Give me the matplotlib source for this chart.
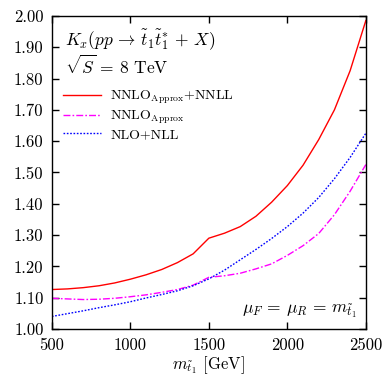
import numpy as np
import matplotlib
matplotlib.use('Agg')
import matplotlib.pyplot as plt

# stop mass [GeV]
mass = [500, 600, 700, 800, 900, 1000, 1100, 1200, 1300, 1400, 1500,
        1600, 1700, 1800, 1900, 2000, 2100, 2200, 2300, 2400, 2500]

# K factors
k_nnll = [1.126, 1.128, 1.132, 1.138, 1.147, 1.159, 1.173, 1.190, 1.212, 1.240, 1.290,
          1.306, 1.327, 1.360, 1.405, 1.458, 1.523, 1.605, 1.700, 1.825, 1.985]
k_nnlo = [1.098, 1.096, 1.094, 1.095, 1.098, 1.103, 1.109, 1.117, 1.126, 1.140, 1.165,
          1.170, 1.178, 1.192, 1.208, 1.235, 1.266, 1.305, 1.365, 1.440, 1.525]
k_nll = [1.040, 1.049, 1.058, 1.068, 1.077, 1.087, 1.099, 1.110, 1.122, 1.138, 1.160,
         1.188, 1.221, 1.254, 1.289, 1.327, 1.370, 1.420, 1.480, 1.548, 1.625]

labels = [r'NNLO$_{\mathrm{Approx}}$+NNLL', r'NNLO$_{\mathrm{Approx}}$', 'NLO+NLL']

xticks = [500, 1000, 1500, 2000, 2500]
yticks = [1.00, 1.10, 1.20, 1.30, 1.40, 1.50, 1.60, 1.70, 1.80, 1.90, 2.00]


def main():
    plt.rcParams['font.family'] = 'serif'
    plt.rcParams['font.serif'] = ['cmr10']
    plt.rcParams['mathtext.fontset'] = 'cm'
    plt.rcParams['axes.formatter.use_mathtext'] = True

    fig = plt.figure(figsize=(3.9, 3.79), dpi=100)
    ax = fig.add_axes([0.133, 0.132, 0.805, 0.826])

    ax.plot(mass, k_nnll, color='#ff0000', lw=1.0, label=labels[0])
    ax.plot(mass, k_nnlo, color='#ff00ff', lw=1.0, dashes=(5, 1.5, 1.2, 1.5), label=labels[1])
    ax.plot(mass, k_nll, color='#0000ff', lw=1.0, dashes=(1.2, 1.2), label=labels[2])

    ax.set_xlim(500, 2500)
    ax.set_ylim(1.0, 2.0)
    ax.set_xticks(xticks)
    ax.set_xticklabels([str(t) for t in xticks])
    ax.set_yticks(yticks)
    ax.set_yticklabels(['%.2f' % t for t in yticks])
    ax.tick_params(direction='in', top=True, right=True, length=5, width=1,
                   labelsize=12, pad=6)
    for sp in ax.spines.values():
        sp.set_linewidth(1.0)

    ax.set_xlabel(r'$m_{\tilde{t}_1}$ [GeV]', fontsize=12, labelpad=1)

    ax.text(0.041, 0.923, r'$K_x(pp \,\rightarrow\, \tilde{t}_1\tilde{t}_1^{*} \,+\, X)$',
            transform=ax.transAxes, fontsize=12.5, va='center', ha='left')
    ax.text(0.041, 0.843, r'$\sqrt{S}\,=\,8$ TeV',
            transform=ax.transAxes, fontsize=12.5, va='center', ha='left')
    ax.text(0.972, 0.054, r'$\mu_F \,=\, \mu_R \,=\, m_{\tilde{t}_1}$',
            transform=ax.transAxes, fontsize=12.5, va='center', ha='right')

    ax.legend(loc='upper left', bbox_to_anchor=(0.035, 0.768), frameon=False,
              fontsize=10, handlelength=2.75, handletextpad=0.65,
              labelspacing=0.2, borderaxespad=0, borderpad=0)

    fig.savefig('out.png', dpi=100)


if __name__ == "__main__":
    main()
